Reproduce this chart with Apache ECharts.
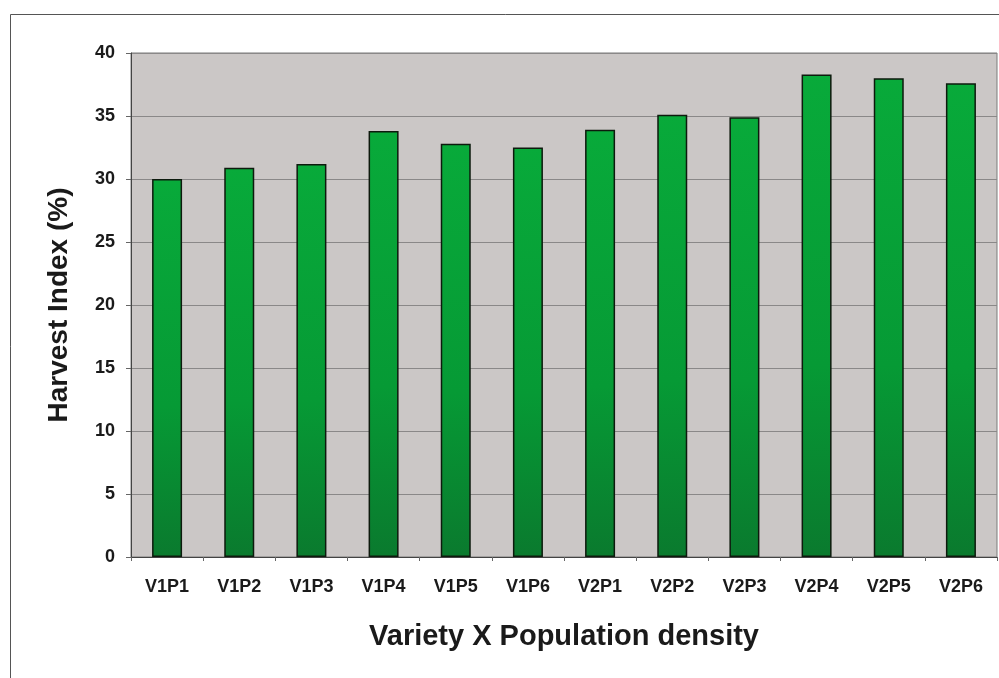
<!DOCTYPE html>
<html>
<head>
<meta charset="utf-8">
<script src="https://cdn.jsdelivr.net/npm/echarts@6/dist/echarts.min.js"></script>
<style>
  html, body { margin: 0; padding: 0; background: #fff; }
  #chart { width: 999px; height: 678px; }
</style>
</head>
<body>
<div id="chart"></div>
<script>
// treatments and harvest index values (%)
var categories = ['V1P1', 'V1P2', 'V1P3', 'V1P4', 'V1P5', 'V1P6',
                  'V2P1', 'V2P2', 'V2P3', 'V2P4', 'V2P5', 'V2P6'];
var harvestIndex = [30.0, 30.9, 31.2, 33.8, 32.8, 32.5,
                    33.9, 35.1, 34.9, 38.3, 38.0, 37.6];

var chart = echarts.init(document.getElementById('chart'));

var option = {
  backgroundColor: '#fff',
  textStyle: { fontFamily: 'Liberation Sans, Arial, sans-serif' },
  grid: {
    left: 131,
    top: 53,
    right: 2,
    bottom: 121,
    show: true,
    backgroundColor: '#cbc7c6',
    borderColor: '#7a7a7a',
    borderWidth: 1
  },
  graphic: [{
    type: 'rect',
    shape: { x: 10.5, y: 14.5, width: 1000, height: 700 },
    style: { fill: 'none', stroke: '#555', lineWidth: 1 },
    silent: true
  }],
  xAxis: {
    type: 'category',
    data: categories,
    name: 'Variety X Population density',
    nameLocation: 'middle',
    nameGap: 65,
    nameTextStyle: { fontSize: 29, fontWeight: 'bold', color: '#1a1a1a' },
    axisLine: { lineStyle: { color: '#444', width: 1 } },
    axisTick: { show: true, length: 4, lineStyle: { color: '#666' } },
    axisLabel: { fontSize: 18, fontWeight: 'bold', color: '#1a1a1a', margin: 21 }
  },
  yAxis: {
    type: 'value',
    min: 0,
    max: 40,
    interval: 5,
    name: 'Harvest Index (%)',
    nameLocation: 'middle',
    nameGap: 58,
    nameTextStyle: { fontSize: 28, fontWeight: 'bold', color: '#1a1a1a' },
    axisLine: { show: true, lineStyle: { color: '#444', width: 1 } },
    axisTick: { show: true, length: 5, lineStyle: { color: '#666' } },
    axisLabel: { fontSize: 18, fontWeight: 'bold', color: '#1a1a1a', margin: 16 },
    splitLine: { show: true, lineStyle: { color: '#8a8888', width: 1 } }
  },
  series: [{
    type: 'bar',
    data: harvestIndex,
    barWidth: 30,
    itemStyle: {
      color: new echarts.graphic.LinearGradient(0, 0, 0, 1, [
        { offset: 0, color: '#08aa3a' },
        { offset: 0.6, color: '#069a35' },
        { offset: 1, color: '#0a7a2e' }
      ]),
      borderColor: '#0d1a0d',
      borderWidth: 1.5
    }
  }]
};

chart.setOption(option);
</script>
</body>
</html>
